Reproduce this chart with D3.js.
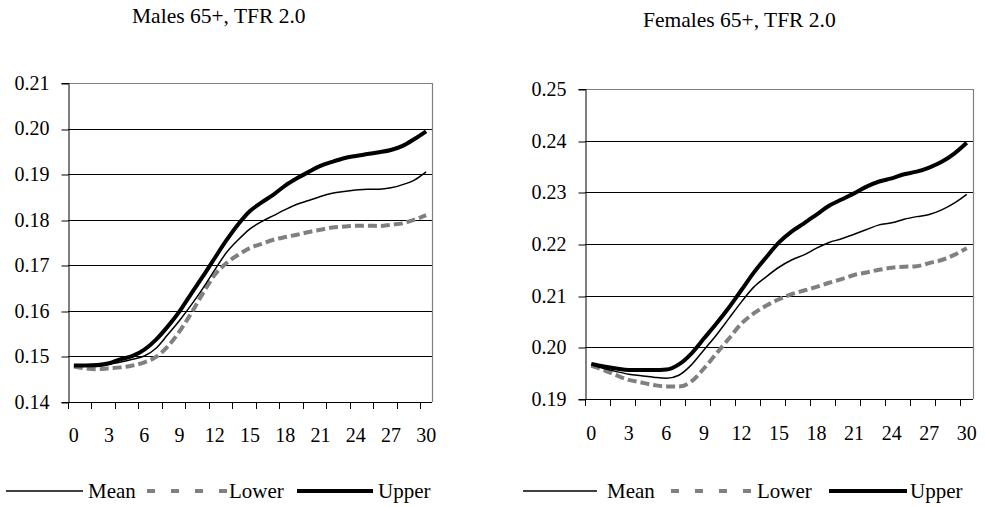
<!DOCTYPE html>
<html><head><meta charset="utf-8">
<script src="https://cdn.jsdelivr.net/npm/d3@7"></script>
<style>
html,body{margin:0;padding:0;background:#fff;}
svg{display:block;font-family:"Liberation Serif","Times New Roman",serif;}
</style></head>
<body>
<svg id="c" width="985" height="507"></svg>
<script>
// ---- data ----
const years = d3.range(0, 31);
const xTickLabels = [0, 3, 6, 9, 12, 15, 18, 21, 24, 27, 30];
const seriesNames = ["Mean", "Lower", "Upper"];

const malesMean = [0.1480,0.1479,0.1478,0.1483,0.1488,0.1494,0.1501,0.1518,0.1548,0.1579,0.1613,0.1650,0.1690,0.1728,0.1756,0.1780,0.1796,0.1809,0.1822,0.1834,0.1842,0.1851,0.1858,0.1862,0.1865,0.1867,0.1867,0.1870,0.1877,0.1887,0.1905];
const malesLower = [0.1478,0.1474,0.1472,0.1474,0.1476,0.1480,0.1487,0.1499,0.1522,0.1555,0.1595,0.1639,0.1679,0.1705,0.1723,0.1738,0.1747,0.1756,0.1762,0.1767,0.1773,0.1778,0.1783,0.1785,0.1787,0.1787,0.1786,0.1789,0.1792,0.1800,0.1810];
const malesUpper = [0.1480,0.1480,0.1481,0.1485,0.1494,0.1501,0.1515,0.1537,0.1566,0.1599,0.1638,0.1676,0.1716,0.1755,0.1790,0.1819,0.1838,0.1855,0.1875,0.1891,0.1905,0.1918,0.1927,0.1935,0.1940,0.1944,0.1948,0.1953,0.1962,0.1977,0.1994];
const malesYTicks = [0.14,0.15,0.16,0.17,0.18,0.19,0.20,0.21];

const femalesMean = [0.1966,0.1959,0.1953,0.1948,0.1945,0.1942,0.1940,0.1946,0.1966,0.1995,0.2024,0.2056,0.2088,0.2117,0.2137,0.2155,0.2169,0.2179,0.2192,0.2203,0.2210,0.2219,0.2228,0.2237,0.2241,0.2248,0.2253,0.2257,0.2266,0.2279,0.2296];
const femalesLower = [0.1964,0.1956,0.1946,0.1937,0.1932,0.1927,0.1924,0.1924,0.1934,0.1959,0.1988,0.2017,0.2046,0.2066,0.2081,0.2093,0.2103,0.2110,0.2117,0.2125,0.2132,0.2140,0.2145,0.2150,0.2154,0.2156,0.2157,0.2163,0.2169,0.2179,0.2192];
const femalesUpper = [0.1968,0.1963,0.1959,0.1956,0.1956,0.1956,0.1957,0.1967,0.1988,0.2017,0.2046,0.2077,0.2111,0.2145,0.2175,0.2203,0.2224,0.2240,0.2257,0.2274,0.2286,0.2298,0.2311,0.2321,0.2327,0.2335,0.2340,0.2348,0.2359,0.2375,0.2396];
const femalesYTicks = [0.19,0.20,0.21,0.22,0.23,0.24,0.25];

// ---- styles ----
const styles = {
  Mean:  {stroke:"#000", width:1.5, dash:null, legendDash:null},
  Lower: {stroke:"#808080", width:4, dash:"9,4", legendDash:"8,16"},
  Upper: {stroke:"#000", width:4, dash:null, legendDash:null}
};

const svg = d3.select("#c");

function drawPanel(cfg) {
  const g = svg.append("g");
  const x = d3.scaleBand().domain(years).range([cfg.left, cfg.right]).paddingInner(0).paddingOuter(0);
  const y = d3.scaleLinear().domain([cfg.yTicks[0], cfg.yTicks[cfg.yTicks.length-1]]).range([cfg.bottom, cfg.top]);

  // gridlines
  g.append("g").selectAll("line").data(cfg.yTicks.slice(1, -1)).join("line")
    .attr("x1", cfg.left).attr("x2", cfg.right)
    .attr("y1", d => Math.round(y(d)) + 0.5).attr("y2", d => Math.round(y(d)) + 0.5)
    .attr("stroke", "#000").attr("stroke-width", 1);
  // top & right border (gray)
  g.append("path")
    .attr("d", `M${cfg.left},${Math.round(cfg.top)+0.5}H${Math.round(cfg.right)+0.5}V${cfg.bottom}`)
    .attr("fill", "none").attr("stroke", "#808080").attr("stroke-width", 1.2);

  // y axis
  const yAxis = d3.axisLeft(y).tickValues(cfg.yTicks).tickFormat(d3.format(".2f")).tickSize(7).tickPadding(12);
  const ya = g.append("g").attr("transform", `translate(${Math.round(cfg.left)+0.5},0)`).call(yAxis);
  ya.select(".domain").attr("stroke", "#000");
  ya.selectAll(".tick line").attr("stroke", "#000").attr("transform", d => `translate(0,${Math.round(y(d)) + 0.5 - y(d)})`);
  ya.selectAll("text").attr("font-size", 20).attr("fill", "#000").attr("font-family", "Liberation Serif");

  // x axis: tick marks at every second category boundary, labels every third category
  const bw = x.bandwidth();
  const boundaries = d3.range(0, 31, 2);
  const xa = g.append("g");
  xa.append("line").attr("x1", cfg.left).attr("x2", cfg.right)
    .attr("y1", Math.round(cfg.bottom)+0.5).attr("y2", Math.round(cfg.bottom)+0.5).attr("stroke", "#000");
  xa.selectAll("line.t").data(boundaries).join("line").attr("class","t")
    .attr("x1", d => Math.round(x(d))+0.5).attr("x2", d => Math.round(x(d))+0.5)
    .attr("y1", Math.round(cfg.bottom)).attr("y2", Math.round(cfg.bottom)+7).attr("stroke", "#000");
  xa.selectAll("text").data(xTickLabels).join("text")
    .attr("x", d => x(d) + bw/2).attr("y", cfg.bottom + cfg.xLabelOffset)
    .attr("text-anchor", "middle").attr("font-size", 20).text(d => d);

  // lines
  const line = d3.line().x((d, i) => x(years[i]) + bw/2).y(d => y(d)).curve(d3.curveMonotoneX);
  const data = {Mean: cfg.mean, Lower: cfg.lower, Upper: cfg.upper};
  ["Lower", "Mean", "Upper"].forEach(k => {
    const s = styles[k];
    g.append("path").datum(data[k]).attr("d", line)
      .attr("fill", "none").attr("stroke", s.stroke).attr("stroke-width", s.width)
      .attr("stroke-dasharray", s.dash).attr("stroke-linejoin", "round");
  });

  // title
  g.append("text").attr("x", cfg.titleX).attr("y", cfg.titleY).attr("font-size", 21.5).text(cfg.title);

  // legend
  const lg = g.append("g");
  cfg.legend.forEach((item, i) => {
    const s = styles[seriesNames[i]];
    lg.append("line").attr("x1", item.x1).attr("x2", item.x2).attr("y1", cfg.legendY).attr("y2", cfg.legendY)
      .attr("stroke", s.stroke).attr("stroke-width", s.width).attr("stroke-dasharray", s.legendDash);
    lg.append("text").attr("x", item.tx).attr("y", cfg.legendY + 7).attr("font-size", 21).text(seriesNames[i]);
  });
}

drawPanel({
  left: 68, right: 432, top: 83, bottom: 402,
  yTicks: malesYTicks, mean: malesMean, lower: malesLower, upper: malesUpper,
  title: "Males 65+, TFR 2.0", titleX: 132, titleY: 23, xLabelOffset: 40,
  legendY: 491,
  legend: [{x1:6, x2:83, tx:88}, {x1:147, x2:228, tx:229}, {x1:297, x2:373, tx:378}]
});
drawPanel({
  left: 585, right: 973, top: 89, bottom: 399,
  yTicks: femalesYTicks, mean: femalesMean, lower: femalesLower, upper: femalesUpper,
  title: "Females 65+, TFR 2.0", titleX: 643, titleY: 27, xLabelOffset: 41,
  legendY: 491,
  legend: [{x1:523, x2:597, tx:607}, {x1:671, x2:751, tx:757}, {x1:829, x2:907, tx:910}]
});
</script>
</body></html>
